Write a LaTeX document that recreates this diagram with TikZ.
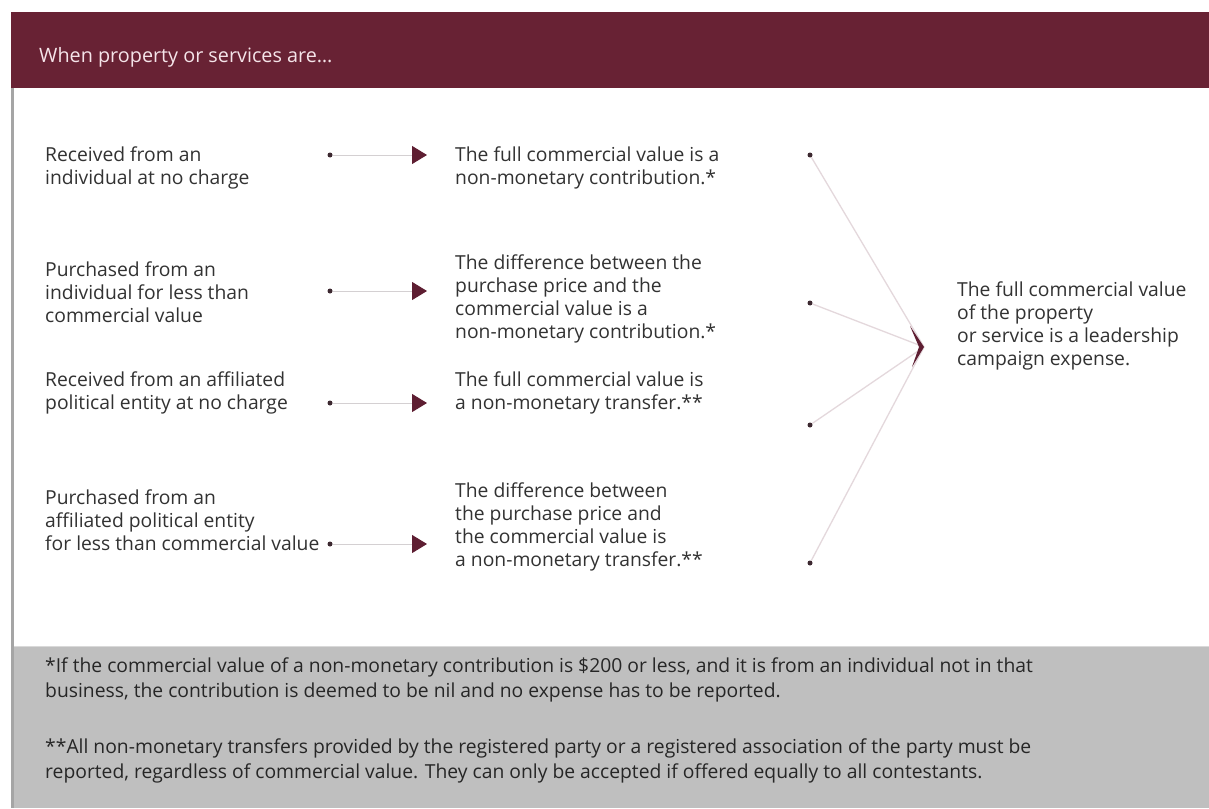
\documentclass[tikz,border=0pt]{standalone}
\usepackage{fontspec}
\setmainfont{Open Sans}
\usetikzlibrary{arrows.meta}
\definecolor{maroon}{RGB}{104,34,52}
\definecolor{arrowred}{RGB}{94,30,50}
\definecolor{txt}{RGB}{50,50,50}
\definecolor{footbg}{RGB}{191,191,191}
\definecolor{bordergray}{RGB}{165,165,165}
\definecolor{linegray}{RGB}{212,208,210}
\definecolor{linepink}{RGB}{228,216,220}
\definecolor{dotc}{RGB}{60,40,48}
\tikzset{
  body/.style={anchor=west,align=left,inner sep=0pt,text=txt,font=\fontsize{19.3}{23}\selectfont},
  foot/.style={anchor=west,align=left,inner sep=0pt,text=black!85,font=\fontsize{19.3}{24.5}\selectfont},
  dotnode/.style={circle,fill=dotc,inner sep=0pt,minimum size=5pt},
  shortline/.style={draw=linegray,line width=1pt,-{Triangle[width=18pt,length=15pt,color=arrowred,fill=arrowred]}},
  longline/.style={draw=linepink,line width=1.3pt},
}
\begin{document}
\begin{tikzpicture}[x=1pt,y=-1pt]
\useasboundingbox (0,0) rectangle (1209,808);
\fill[white] (0,0) rectangle (1209,808);
% header
\fill[maroon] (11,12) rectangle (1209,88);
\node[anchor=west,inner sep=0pt,text={rgb,255:red,245;green,228;blue,233},font=\fontsize{19.8}{22}\selectfont] (hdr) at (39,57) {When property or services are\ldots};
% left border
\fill[bordergray] (11,88) rectangle (14,808);
% footer
\fill[footbg] (14,647) rectangle (1209,808);
\draw[white!85!black,line width=1pt] (14,646.5) -- (1209,646.5);
% column 1
\node[body] (a1) at (45,168) {Received from an\\individual at no charge};
\node[body] (a2) at (45,292) {Purchased from an\\individual for less than\\commercial value};
\node[body] (a3) at (45,393) {Received from an affiliated\\political entity at no charge};
\node[body] (a4) at (45,520) {Purchased from an\\affiliated political entity\\for less than commercial value};
% column 2
\node[body] (b1) at (455,168) {The full commercial value is a\\non-monetary contribution.*};
\node[body] (b2) at (455,298.5) {The difference between the\\purchase price and the\\commercial value is a\\non-monetary contribution.*};
\node[body] (b3) at (455,393) {The full commercial value is\\a non-monetary transfer.**};
\node[body] (b4) at (455,526.5) {The difference between\\the purchase price and\\the commercial value is\\a non-monetary transfer.**};
% right
\node[body] (res) at (957,326) {The full commercial value\\of the property\\or service is a leadership\\campaign expense.};
% dots col1 and arrows
\node[dotnode] (d1) at (330,155) {};
\node[dotnode] (d2) at (330,291) {};
\node[dotnode] (d3) at (330,403) {};
\node[dotnode] (d4) at (330,544) {};
\coordinate (t1) at (427,155);
\coordinate (t2) at (427,291);
\coordinate (t3) at (427,403);
\coordinate (t4) at (427,544);
\foreach \i in {1,2,3,4} {\draw[shortline] (d\i) -- (t\i);}
% dots col2
\node[dotnode] (e1) at (810,155) {};
\node[dotnode] (e2) at (810,303) {};
\node[dotnode] (e3) at (810,425) {};
\node[dotnode] (e4) at (810,563) {};
\coordinate (tip) at (924,347);
\foreach \i in {1,2,3,4} {\draw[longline] (e\i) -- (tip);}
\fill[arrowred] ([shift={(-14,-21)}]tip) -- (tip) -- ([shift={(-12,20)}]tip) -- ([shift={(-5,0)}]tip) -- cycle;
% footer text
\node[foot] (f1) at (45,680) {*If the commercial value of a non-monetary contribution is \$200 or less, and it is from an individual not in that\\business, the contribution is deemed to be nil and no expense has to be reported.};
\node[foot] (f2) at (45,761) {**All non-monetary transfers provided by the registered party or a registered association of the party must be\\reported, regardless of commercial value. They can only be accepted if offered equally to all contestants.};
\end{tikzpicture}
\end{document}
